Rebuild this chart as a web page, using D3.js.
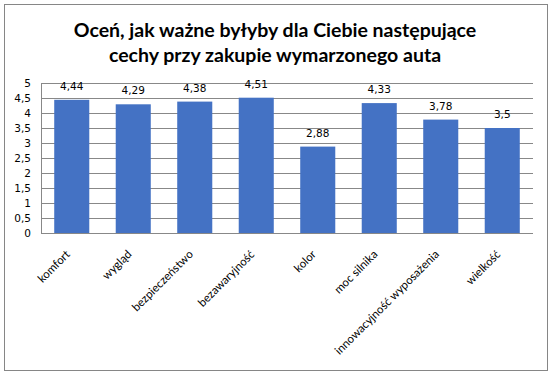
<!DOCTYPE html>
<html><head><meta charset="utf-8">
<script src="https://cdn.jsdelivr.net/npm/d3@7"></script>
<style>body{margin:0;background:#fff;} svg{display:block;}</style>
</head><body>
<script>
const categories = ["komfort","wygląd","bezpieczeństwo","bezawaryjność","kolor","moc silnika","innowacyjność wyposażenia","wielkość"];
const values = [4.44,4.29,4.38,4.51,2.88,4.33,3.78,3.5];
const valueLabels = ["4,44","4,29","4,38","4,51","2,88","4,33","3,78","3,5"];
const yTicks = [0,0.5,1,1.5,2,2.5,3,3.5,4,4.5,5];
const titleLines = ["Oceń, jak ważne byłyby dla Ciebie następujące","cechy przy zakupie wymarzonego auta"];

const W=555,H=377;
const svg=d3.select("body").append("svg").attr("width",W).attr("height",H);
svg.append("rect").attr("x",4.5).attr("y",4.5).attr("width",543).attr("height",366)
  .attr("fill","#fff").attr("stroke","#868686").attr("stroke-width",1);

const t=svg.append("g");
titleLines.forEach((l,i)=>t.append("text").attr("x",275).attr("y",37+i*25).attr("text-anchor","middle")
  .attr("font-family","Lato, 'Open Sans', sans-serif").attr("font-weight","bold").attr("font-size",19.5).attr("fill","#000").text(l));

const m={l:41,r:533,t:83,b:233};
const x=d3.scaleBand().domain(categories).range([m.l,m.r]).paddingInner(0.43).paddingOuter(0.215);
const y=d3.scaleLinear().domain([0,5]).range([m.b,m.t]);

const g=svg.append("g");
g.selectAll("line.grid").data(yTicks).join("line").attr("class","grid")
  .attr("x1",m.l).attr("x2",m.r).attr("y1",d=>Math.round(y(d))+0.5).attr("y2",d=>Math.round(y(d))+0.5)
  .attr("stroke","#888").attr("stroke-width",1);
g.append("line").attr("x1",m.l+0.5).attr("x2",m.l+0.5).attr("y1",m.t).attr("y2",m.b).attr("stroke","#888");

const yAxis=d3.axisLeft(y).tickValues(yTicks).tickSize(0).tickPadding(10).tickFormat(d=>String(d).replace(".",","));
const ya=svg.append("g").attr("transform",`translate(${m.l},0.5)`).call(yAxis);
ya.select(".domain").remove();
ya.selectAll("text").attr("font-family","'DejaVu Sans', Verdana, sans-serif").attr("font-size",10.5).attr("fill","#000");

g.selectAll("rect.bar").data(values).join("rect").attr("class","bar")
  .attr("x",(d,i)=>x(categories[i])).attr("width",x.bandwidth())
  .attr("y",d=>y(d)).attr("height",d=>m.b-y(d)).attr("fill","#4472C4");

g.selectAll("text.val").data(values).join("text").attr("class","val")
  .attr("x",(d,i)=>x(categories[i])+x.bandwidth()/2).attr("y",d=>y(d)-10)
  .attr("text-anchor","middle").attr("font-family","'DejaVu Sans', Verdana, sans-serif").attr("font-size",10.5).attr("fill","#000")
  .text((d,i)=>valueLabels[i]);

const xAxis=d3.axisBottom(x).tickSize(0).tickPadding(0);
const xa=svg.append("g").attr("transform",`translate(0,${m.b})`).call(xAxis);
xa.select(".domain").remove();
xa.selectAll("text").attr("font-family","Lato, sans-serif").attr("font-size",11.5).attr("fill","#000")
  .attr("text-anchor","end").attr("dy",0).attr("y",0)
  .attr("transform","translate(-1,22) rotate(-45)");
</script>
</body></html>
